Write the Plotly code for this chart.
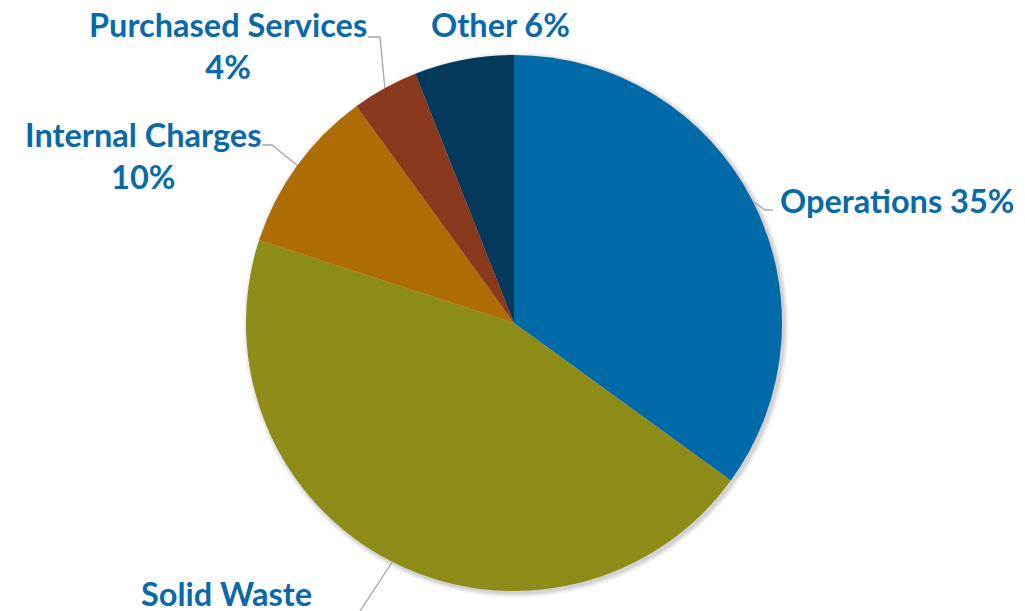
import math
import plotly.graph_objects as go

# Budget share by category, clockwise from 12 o'clock
categories = ["Operations", "Solid Waste", "Internal Charges", "Purchased Services", "Other"]
shares = [35, 45, 10, 4, 6]
slice_colors = ["#0069A8", "#8C8C16", "#AE6D04", "#8A391D", "#033A5B"]

W, H = 1025, 611
CX, CY, R = 514, 323, 268          # pie centre / radius in pixels
TEXT_COLOR = "#0A6AA9"
LINE_COLOR = "#A6A6A6"
FONT = dict(family="Lato", size=32.5, color=TEXT_COLOR, weight="bold")

# label placement: text centre (px), whether to break before the percentage,
# and the leader-line path after it leaves the slice edge (px)
label_layout = {
    "Operations":         dict(xy=(897, 200), wrap=False, path=[(765, 210), (773, 210)]),
    "Solid Waste":        dict(xy=(226, 614), wrap=True,  path=[(360, 611)]),
    "Internal Charges":   dict(xy=(143, 156), wrap=True,  path=[(272, 145), (262, 145)]),
    "Purchased Services": dict(xy=(228, 46),  wrap=True,  path=[(380, 37), (368, 37)]),
    "Other":              dict(xy=(500, 25),  wrap=False, path=None),
}


def domain(cx, cy, r):
    return dict(x=[(cx - r) / W, (cx + r) / W], y=[1 - (cy + r) / H, 1 - (cy - r) / H])


def px(x, y):
    return x / W, 1 - y / H


fig = go.Figure()

# soft drop shadow under the pie
for e, a in [(5, 0.025), (4, 0.03), (3, 0.035), (2, 0.04), (1, 0.05)]:
    fig.add_trace(go.Pie(
        values=[1], marker=dict(colors=[f"rgba(0,0,0,{a})"], line=dict(width=0)),
        domain=domain(CX + 2, CY + 2, R + e), textinfo="none", hoverinfo="skip",
        showlegend=False, sort=False,
    ))

fig.add_trace(go.Pie(
    labels=categories, values=shares, sort=False, direction="clockwise", rotation=0,
    marker=dict(colors=slice_colors, line=dict(width=0)),
    textinfo="none", domain=domain(CX, CY, R), showlegend=False,
))

total = sum(shares)
annotations, shapes = [], []
cum = 0
for name, v in zip(categories, shares):
    mid = (cum + v / 2) / total * 2 * math.pi
    cum += v
    cfg = label_layout[name]
    sep = "<br>" if cfg["wrap"] else " "
    tx, ty = px(*cfg["xy"])
    annotations.append(dict(
        text=f"{name}{sep}{v}%", x=tx, y=ty, xref="paper", yref="paper",
        xanchor="center", yanchor="middle", align="center", showarrow=False, font=FONT,
    ))
    if cfg["path"]:
        pts = [(CX + R * math.sin(mid), CY - R * math.cos(mid))] + cfg["path"]
        d = "M " + " L ".join(f"{px(x, y)[0]},{px(x, y)[1]}" for x, y in pts)
        shapes.append(dict(type="path", path=d, xref="paper", yref="paper",
                           line=dict(color=LINE_COLOR, width=1.3)))

fig.update_layout(
    width=W, height=H, margin=dict(l=0, r=0, t=0, b=0),
    paper_bgcolor="white", plot_bgcolor="white",
    annotations=annotations, shapes=shapes,
)

fig.write_html("out.html")
